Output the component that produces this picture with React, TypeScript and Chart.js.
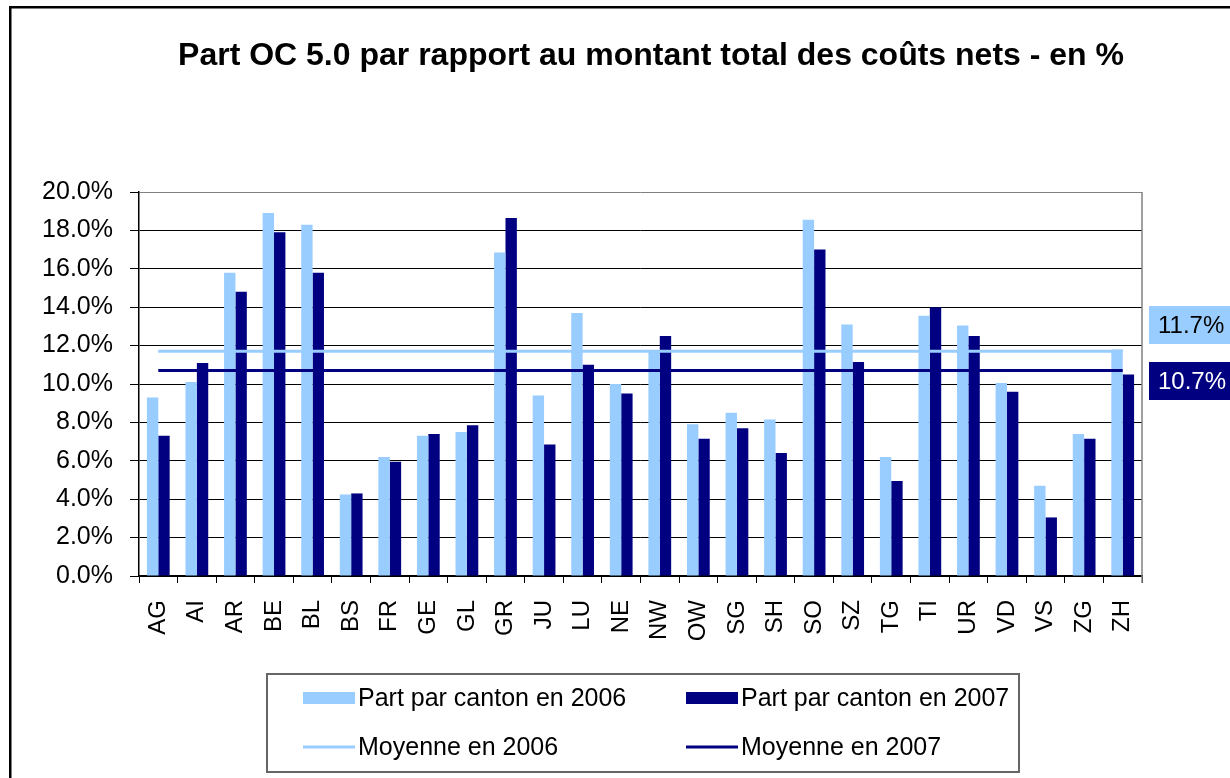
import React, { useEffect, useRef } from "react";
import { Chart, registerables } from "chart.js";

Chart.register(...registerables);

const TITLE = "Part OC 5.0 par rapport au montant total des coûts nets - en %";
const CATEGORIES = ["AG", "AI", "AR", "BE", "BL", "BS", "FR", "GE", "GL", "GR", "JU", "LU", "NE", "NW", "OW", "SG", "SH", "SO", "SZ", "TG", "TI", "UR", "VD", "VS", "ZG", "ZH"];
const SHARE_2006 = [9.3, 10.1, 15.8, 18.9, 18.3, 4.25, 6.2, 7.3, 7.5, 16.85, 9.4, 13.7, 10.0, 11.7, 7.9, 8.5, 8.15, 18.55, 13.1, 6.2, 13.55, 13.05, 10.05, 4.7, 7.4, 11.8];
const SHARE_2007 = [7.3, 11.1, 14.8, 17.9, 15.8, 4.3, 5.95, 7.4, 7.85, 18.65, 6.85, 11.0, 9.5, 12.5, 7.15, 7.7, 6.4, 17.0, 11.15, 4.95, 14.0, 12.5, 9.6, 3.05, 7.15, 10.5];
const MEAN_2006 = 11.7;
const MEAN_2007 = 10.7;
const LEGEND_LABELS = ["Part par canton en 2006", "Part par canton en 2007", "Moyenne en 2006", "Moyenne en 2007"];

const LIGHT = "#99CCFF";
const DARK = "#000080";
const FONT = "'Liberation Sans', Arial, sans-serif";

const decor = {
  id: "decor",
  beforeDraw(chart: any) {
    const { ctx, width, height } = chart;
    ctx.save();
    ctx.fillStyle = "#fff";
    ctx.fillRect(0, 0, width, height);
    ctx.strokeStyle = "#000";
    ctx.lineWidth = 2.5;
    ctx.strokeRect(10.25, 7.25, width + 20, height + 20);
    ctx.restore();
  },
  afterDraw(chart: any) {
    const { ctx, chartArea: a } = chart;
    ctx.save();
    // plot right border
    ctx.strokeStyle = "#808080";
    ctx.lineWidth = 1.5;
    ctx.beginPath();
    ctx.moveTo(a.right, a.top);
    ctx.lineTo(a.right, a.bottom + 7);
    ctx.stroke();

    // title
    ctx.fillStyle = "#000";
    ctx.font = `bold 32px ${FONT}`;
    ctx.textAlign = "center";
    ctx.textBaseline = "middle";
    ctx.fillText(TITLE, 651, 56);

    // mean value labels on the right
    ctx.font = `24px ${FONT}`;
    ctx.textAlign = "left";
    ctx.fillStyle = LIGHT;
    ctx.fillRect(1149, 306, 90, 38);
    ctx.fillStyle = "#000";
    ctx.fillText(`${MEAN_2006.toFixed(1)}%`, 1158, 326);
    ctx.fillStyle = DARK;
    ctx.fillRect(1149, 362, 90, 38);
    ctx.fillStyle = "#fff";
    ctx.fillText(`${MEAN_2007.toFixed(1)}%`, 1158, 382);

    // legend
    ctx.strokeStyle = "#666";
    ctx.lineWidth = 2;
    ctx.strokeRect(267, 674, 752, 98);
    const cols = [303, 686];
    const rows = [698, 747];
    const colors = [LIGHT, DARK];
    ctx.font = `25px ${FONT}`;
    ctx.textBaseline = "middle";
    for (let c = 0; c < 2; c++) {
      const x = cols[c];
      ctx.fillStyle = colors[c];
      ctx.fillRect(x, rows[0] - 6, 52, 12);
      ctx.strokeStyle = colors[c];
      ctx.lineWidth = 3;
      ctx.beginPath();
      ctx.moveTo(x, rows[1]);
      ctx.lineTo(x + 52, rows[1]);
      ctx.stroke();
      ctx.fillStyle = "#000";
      ctx.fillText(LEGEND_LABELS[c], x + 55, rows[0] + 1);
      ctx.fillText(LEGEND_LABELS[c + 2], x + 55, rows[1] + 1);
    }
    ctx.restore();
  },
};

export default function App() {
  const ref = useRef<HTMLCanvasElement>(null);
  useEffect(() => {
    document.body.style.margin = "0";
    const first = CATEGORIES[0];
    const last = CATEGORIES[CATEGORIES.length - 1];
    const chart = new Chart(ref.current as HTMLCanvasElement, {
      type: "bar",
      data: {
        labels: CATEGORIES,
        datasets: [
          {
            type: "bar",
            label: LEGEND_LABELS[0],
            data: SHARE_2006,
            backgroundColor: LIGHT,
            categoryPercentage: 0.59,
            barPercentage: 1,
            order: 1,
          },
          {
            type: "bar",
            label: LEGEND_LABELS[1],
            data: SHARE_2007,
            backgroundColor: DARK,
            categoryPercentage: 0.59,
            barPercentage: 1,
            order: 1,
          },
          {
            type: "line",
            label: LEGEND_LABELS[2],
            data: [{ x: first, y: MEAN_2006 }, { x: last, y: MEAN_2006 }] as any,
            borderColor: LIGHT,
            borderWidth: 3,
            pointRadius: 0,
            fill: false,
            order: 0,
          },
          {
            type: "line",
            label: LEGEND_LABELS[3],
            data: [{ x: first, y: MEAN_2007 }, { x: last, y: MEAN_2007 }] as any,
            borderColor: DARK,
            borderWidth: 3,
            pointRadius: 0,
            fill: false,
            order: 0,
          },
        ],
      } as any,
      options: {
        animation: false,
        responsive: true,
        maintainAspectRatio: false,
        layout: { padding: { left: 0, right: 88, top: 192, bottom: 112 } },
        plugins: {
          legend: { display: false },
          title: { display: false },
          tooltip: { enabled: false },
        },
        scales: {
          x: {
            afterFit: (s: any) => {
              s.height = 90;
            },
            grid: {
              drawOnChartArea: false,
              offset: true,
              tickLength: 7,
              color: "#000",
              lineWidth: 1,
            },
            border: { color: "#000", width: 1.5 },
            ticks: {
              autoSkip: false,
              minRotation: 90,
              maxRotation: 90,
              padding: 17,
              color: "#000",
              font: { family: FONT, size: 24 },
            },
          },
          y: {
            min: 0,
            max: 20,
            afterFit: (s: any) => {
              s.width = 139;
            },
            grid: {
              color: (c: any) => (c.tick && c.tick.value === 20 ? "#808080" : "#000"),
              tickColor: "#000",
              tickLength: 9,
              lineWidth: 1,
            },
            border: { color: "#000", width: 1.5 },
            ticks: {
              stepSize: 2,
              padding: 17,
              color: "#000",
              font: { family: FONT, size: 25 },
              callback: (v: any) => `${Number(v).toFixed(1)}%`,
            },
          },
        },
      } as any,
      plugins: [decor],
    });
    return () => chart.destroy();
  }, []);
  return (
    <div style={{ width: 1230, height: 778, position: "relative" }}>
      <canvas ref={ref} />
    </div>
  );
}
